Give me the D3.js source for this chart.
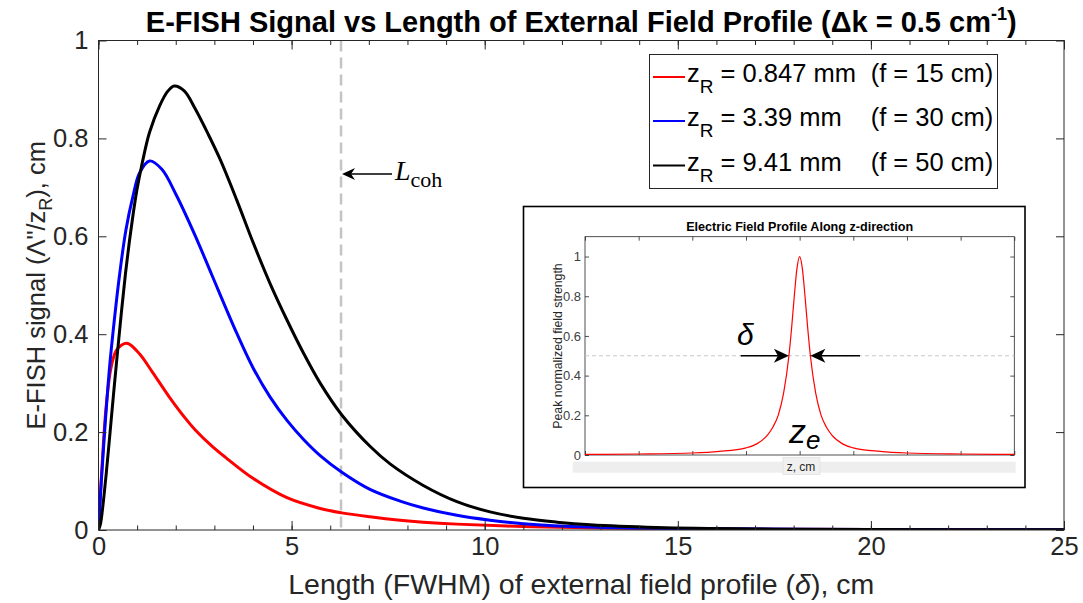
<!DOCTYPE html>
<html><head><meta charset="utf-8">
<script src="https://cdn.jsdelivr.net/npm/d3@7"></script>
<style>
body{margin:0;background:#fff}
svg{display:block}
text{font-family:"Liberation Sans",Arial,Helvetica,sans-serif}
</style>
</head><body>
<svg id="c" width="1083" height="603"></svg>
<script>
// ---- data ----
const redSeries = [[0,0],[0.05,0.075],[0.11,0.155],[0.19,0.245],[0.32,0.330],[0.45,0.365],[0.6,0.378],[0.76,0.381],[1.06,0.360],[1.40,0.322],[1.83,0.272],[2.25,0.228],[2.5,0.205],[2.93,0.172],[3.28,0.149],[4.01,0.105],[4.88,0.066],[5.74,0.044],[6.3,0.035],[7.03,0.027],[7.81,0.020],[8.41,0.016],[9.28,0.012],[11,0.007],[13,0.004],[16,0.002],[20,0.001],[25,0.0006]];
const blueSeries = [[0,0],[0.065,0.089],[0.15,0.191],[0.28,0.327],[0.41,0.429],[0.54,0.518],[0.71,0.613],[0.89,0.681],[1.06,0.729],[1.32,0.754],[1.64,0.737],[2.01,0.685],[2.5,0.602],[2.93,0.522],[3.58,0.402],[4.01,0.330],[4.44,0.272],[4.88,0.224],[5.31,0.185],[5.74,0.152],[6.3,0.118],[7.03,0.083],[7.81,0.059],[8.41,0.045],[9.28,0.030],[10.14,0.020],[11,0.013],[12.73,0.006],[15,0.003],[20,0.001],[25,0.0005]];
const blackSeries = [[0,0],[0.05,0.012],[0.1,0.04],[0.2,0.115],[0.3,0.2],[0.4,0.287],[0.5,0.37],[0.6,0.45],[0.7,0.525],[0.8,0.59],[0.9,0.647],[1.0,0.697],[1.12,0.745],[1.32,0.812],[1.58,0.866],[1.79,0.896],[1.96,0.907],[2.22,0.897],[2.5,0.861],[2.85,0.807],[3.15,0.757],[3.58,0.674],[4.01,0.586],[4.44,0.504],[4.88,0.429],[5.31,0.361],[5.74,0.300],[6.3,0.235],[7.03,0.171],[7.55,0.135],[8.41,0.091],[9.28,0.058],[10.14,0.037],[11,0.024],[11.87,0.016],[12.73,0.0105],[14.46,0.005],[17,0.002],[20,0.001],[25,0.0005]];
const seriesColors = ["#ff0000","#0000ff","#000000"];
const legendNames = ["0.847 mm","3.39 mm","9.41 mm"];
const legendFocal = ["(f = 15 cm)","(f = 30 cm)","(f = 50 cm)"];
const xTicks = [0,5,10,15,20,25];
const xMinorTicks = d3.range(0,26,1);
const yTicks = [0,0.2,0.4,0.6,0.8,1];
const Lcoh = 6.28;

// inset data (normalized field profile)
const insetSeries = [[-4,0.003],[-3,0.005],[-2,0.01],[-1.5,0.018],[-1,0.036],[-0.8,0.056],[-0.6,0.1],[-0.5,0.14],[-0.4,0.2],[-0.3,0.31],[-0.2,0.5],[-0.15,0.64],[-0.1,0.8],[-0.05,0.94],[0,1],[0.05,0.94],[0.1,0.8],[0.15,0.64],[0.2,0.5],[0.3,0.31],[0.4,0.2],[0.5,0.14],[0.6,0.1],[0.8,0.056],[1,0.036],[1.5,0.018],[2,0.01],[3,0.005],[4,0.003]];
const insetXTicks = d3.range(-4,5,1);
const insetYTicks = [0,0.2,0.4,0.6,0.8,1];

// ---- drawing ----
const svg = d3.select("#c");
const AX = "#262626";
const m = {l:98.5, r:1064, t:40.5, b:530};
const x = d3.scaleLinear().domain([0,25]).range([m.l,m.r]);
const y = d3.scaleLinear().domain([0,1]).range([m.b,m.t]);

svg.append("rect").attr("width",1083).attr("height",603).attr("fill","#fff");

svg.append("defs").append("clipPath").attr("id","clip")
  .append("rect").attr("x",m.l).attr("y",m.t).attr("width",m.r-m.l).attr("height",m.b-m.t);

// Lcoh dashed line
svg.append("line").attr("x1",x(Lcoh)).attr("x2",x(Lcoh)).attr("y1",m.t).attr("y2",m.b)
  .attr("stroke","#c4c4c4").attr("stroke-width",2.5).attr("stroke-dasharray","11,6");

// curves
const line = d3.line().x(d=>x(d[0])).y(d=>y(d[1])).curve(d3.curveCatmullRom.alpha(0.5));
[redSeries,blueSeries,blackSeries].forEach((s,i)=>{
  svg.append("path").attr("d",line(s)).attr("fill","none").attr("stroke",seriesColors[i])
    .attr("stroke-width",3).attr("clip-path","url(#clip)").attr("stroke-linejoin","round");
});

// axes
function styleAxis(g){
  g.select(".domain").remove();
  g.selectAll(".tick line").attr("stroke",AX).attr("stroke-width",1);
  g.selectAll(".tick text").attr("fill",AX).attr("font-size",25.5).attr("font-family","Liberation Sans, Arial, sans-serif");
}
const fmt = d3.format("~g");
svg.append("g").attr("transform",`translate(0,${m.b})`)
  .call(d3.axisBottom(x).tickValues(xTicks).tickSizeInner(-9).tickSizeOuter(0).tickPadding(7).tickFormat(fmt)).call(styleAxis);
svg.append("g").attr("transform",`translate(0,${m.b})`)
  .call(d3.axisBottom(x).tickValues(xMinorTicks).tickSizeInner(-4.5).tickSizeOuter(0).tickFormat("")).call(styleAxis);
svg.append("g").attr("transform",`translate(0,${m.t})`)
  .call(d3.axisTop(x).tickValues(xTicks).tickSizeInner(-9).tickSizeOuter(0).tickFormat("")).call(styleAxis);
svg.append("g").attr("transform",`translate(0,${m.t})`)
  .call(d3.axisTop(x).tickValues(xMinorTicks).tickSizeInner(-4.5).tickSizeOuter(0).tickFormat("")).call(styleAxis);
svg.append("g").attr("transform",`translate(${m.l},0)`)
  .call(d3.axisLeft(y).tickValues(yTicks).tickSizeInner(-8).tickSizeOuter(0).tickPadding(10).tickFormat(fmt)).call(styleAxis);
svg.append("g").attr("transform",`translate(${m.r},0)`)
  .call(d3.axisRight(y).tickValues(yTicks).tickSizeInner(-8).tickSizeOuter(0).tickFormat("")).call(styleAxis);
svg.append("rect").attr("x",m.l).attr("y",m.t).attr("width",m.r-m.l).attr("height",m.b-m.t)
  .attr("fill","none").attr("stroke",AX).attr("stroke-width",1);

// title
const title = svg.append("text").attr("x",(m.l+m.r)/2).attr("y",32).attr("text-anchor","middle")
  .attr("font-size",29).attr("font-weight","bold").attr("fill","#000");
title.append("tspan").text("E-FISH Signal vs Length of External Field Profile (\u0394k = 0.5 cm");
title.append("tspan").attr("font-size",18).attr("dy",-12).text("-1");
title.append("tspan").attr("dy",12).text(")");

// x label
const xl = svg.append("text").attr("x",(m.l+m.r)/2).attr("y",594).attr("text-anchor","middle")
  .attr("font-size",28.5).attr("fill",AX);
xl.append("tspan").text("Length (FWHM) of external field profile (");
xl.append("tspan").attr("font-style","italic").text("\u03b4");
xl.append("tspan").text("), cm");

// y label
const yl = svg.append("text").attr("transform",`translate(45,${(m.t+m.b)/2}) rotate(-90)`)
  .attr("text-anchor","middle").attr("font-size",25.5).attr("fill",AX);
yl.append("tspan").text("E-FISH signal (\u039b\"/z");
yl.append("tspan").attr("font-size",18).attr("dy",7).text("R");
yl.append("tspan").attr("dy",-7).text("), cm");

// Lcoh arrow + label
const arrowY = 174;
svg.append("line").attr("x1",392).attr("x2",x(Lcoh)+8).attr("y1",arrowY).attr("y2",arrowY)
  .attr("stroke","#000").attr("stroke-width",1.3);
svg.append("path").attr("d",`M${x(Lcoh)+1},${arrowY} L${x(Lcoh)+14},${arrowY-6} L${x(Lcoh)+10},${arrowY} L${x(Lcoh)+14},${arrowY+6} Z`)
  .attr("fill","#000");
const lt = svg.append("text").attr("x",395).attr("y",180).attr("font-family","Liberation Serif, DejaVu Serif, serif").attr("font-size",28).attr("fill","#000");
lt.append("tspan").attr("font-style","italic").attr("font-family","Liberation Serif, serif").text("L");
lt.append("tspan").attr("font-size",22).attr("dy",7).attr("font-family","Liberation Serif, serif").text("coh");

// legend
const lg = svg.append("g");
lg.append("rect").attr("x",649.5).attr("y",54.5).attr("width",348).attr("height",134)
  .attr("fill","#fff").attr("stroke",AX).attr("stroke-width",1);
const rowY = [82,126,170.5];
legendNames.forEach((n,i)=>{
  lg.append("line").attr("x1",653).attr("x2",685).attr("y1",rowY[i]-5).attr("y2",rowY[i]-5)
    .attr("stroke",seriesColors[i]).attr("stroke-width",2);
  const t = lg.append("text").attr("x",687).attr("y",rowY[i]).attr("font-size",25.5).attr("fill","#000");
  t.append("tspan").text("z");
  t.append("tspan").attr("font-size",19).attr("dy",11).text("R");
  t.append("tspan").attr("dy",-11).text(" = " + n);
  t.append("tspan").attr("x",870.7).text(legendFocal[i]);
});

// ---- inset ----
const ins = svg.append("g");
ins.append("rect").attr("x",523.5).attr("y",206.5).attr("width",501.5).attr("height",281)
  .attr("fill","#fff").attr("stroke","#000").attr("stroke-width",1.6);
const ix = d3.scaleLinear().domain([-4,4]).range([585,1014.3]);
const iy = d3.scaleLinear().domain([0,1.1]).range([455,236.7]);
ins.append("text").attr("x",(585+1014.3)/2).attr("y",231).attr("text-anchor","middle")
  .attr("font-size",12.6).attr("font-weight","bold").attr("fill","#000").text("Electric Field Profile Along z-direction");

// gray x-axis label bar
ins.append("rect").attr("x",572.7).attr("y",461.7).attr("width",443).attr("height",11).attr("fill","#eeeeee");
ins.append("rect").attr("x",783).attr("y",457.5).attr("width",37).attr("height",17).attr("fill","#f0f0f0").attr("stroke","#e0e0e0").attr("stroke-width",0.8);
ins.append("text").attr("x",801).attr("y",471).attr("text-anchor","middle").attr("font-size",12).attr("fill","#262626").text("z, cm");

function styleInset(g){
  g.select(".domain").remove();
  g.selectAll(".tick line").attr("stroke",AX).attr("stroke-width",0.8);
  g.selectAll(".tick text").attr("fill","#404040").attr("font-size",13).attr("font-family","Liberation Sans, Arial, sans-serif");
}
ins.append("g").attr("transform","translate(0,455)")
  .call(d3.axisBottom(ix).tickValues(insetXTicks).tickSizeInner(-4).tickSizeOuter(0).tickFormat("")).call(styleInset);
ins.append("g").attr("transform","translate(0,236.7)")
  .call(d3.axisTop(ix).tickValues(insetXTicks).tickSizeInner(-4).tickSizeOuter(0).tickFormat("")).call(styleInset);
ins.append("g").attr("transform","translate(585,0)")
  .call(d3.axisLeft(iy).tickValues(insetYTicks).tickSizeInner(-4).tickSizeOuter(0).tickPadding(4).tickFormat(fmt)).call(styleInset);
ins.append("g").attr("transform","translate(1014.3,0)")
  .call(d3.axisRight(iy).tickValues(insetYTicks).tickSizeInner(-4).tickSizeOuter(0).tickFormat("")).call(styleInset);
ins.append("rect").attr("x",585).attr("y",236.7).attr("width",1014.3-585).attr("height",455-236.7)
  .attr("fill","none").attr("stroke",AX).attr("stroke-width",0.8);
ins.append("text").attr("transform",`translate(562,346) rotate(-90)`).attr("text-anchor","middle")
  .attr("font-size",12.3).attr("fill","#262626").text("Peak normalized field strength");

// half-max dashed line
ins.append("line").attr("x1",585).attr("x2",1014.3).attr("y1",iy(0.5)).attr("y2",iy(0.5))
  .attr("stroke","#c8c8c8").attr("stroke-width",1).attr("stroke-dasharray","4,3");
const iline = d3.line().x(d=>ix(d[0])).y(d=>iy(d[1])).curve(d3.curveMonotoneX);
ins.append("path").attr("d",iline(insetSeries)).attr("fill","none").attr("stroke","#ff0000").attr("stroke-width",1.2);

// FWHM arrows
const hy = iy(0.5), xl0 = ix(-0.2), xr0 = ix(0.2);
ins.append("line").attr("x1",740.7).attr("x2",xl0-8).attr("y1",hy).attr("y2",hy).attr("stroke","#000").attr("stroke-width",1.5);
ins.append("path").attr("d",`M${xl0},${hy} L${xl0-15},${hy-7} L${xl0-11},${hy} L${xl0-15},${hy+7} Z`).attr("fill","#000");
ins.append("line").attr("x1",860).attr("x2",xr0+8).attr("y1",hy).attr("y2",hy).attr("stroke","#000").attr("stroke-width",1.5);
ins.append("path").attr("d",`M${xr0},${hy} L${xr0+15},${hy-7} L${xr0+11},${hy} L${xr0+15},${hy+7} Z`).attr("fill","#000");
ins.append("text").attr("x",737).attr("y",345).attr("font-family","Liberation Serif, serif").attr("font-style","italic")
  .attr("font-size",30).attr("fill","#000").text("\u03b4");
const ze = ins.append("text").attr("x",789).attr("y",443).attr("font-family","Liberation Serif, serif").attr("font-style","italic")
  .attr("font-size",34).attr("fill","#000");
ze.append("tspan").text("z");
ze.append("tspan").attr("font-size",26).attr("dy",6).text("e");
</script>
</body></html>
